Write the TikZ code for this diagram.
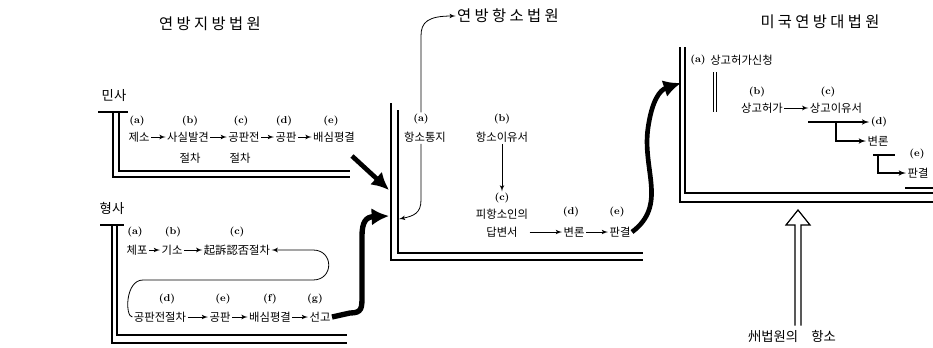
\documentclass[tikz,border=0pt]{standalone}
\usepackage{fontspec}
\newfontfamily\kr{Noto Sans CJK KR}
\newfontfamily\krtitle[LetterSpace=22]{Noto Sans CJK KR}
\usetikzlibrary{arrows, arrows.meta, positioning}

\begin{document}
\begin{tikzpicture}[x=0.75pt, y=-0.75pt,
    step_text/.style={inner sep=1pt, font=\kr\fontsize{8.5}{10}\selectfont},
    step_label/.style={inner sep=1pt, font=\fontsize{7.5}{8}\selectfont\bfseries},
    head_text/.style={inner sep=1pt, font=\kr\fontsize{10}{12}\selectfont},
    court_title/.style={inner sep=1pt, font=\krtitle\fontsize{11.5}{13}\selectfont},
    flow/.style={draw, -latex', line width=0.6pt},
    big_flow/.style={draw, -{Latex[length=13pt,width=13pt]}, line width=3.5pt},
    wall/.style={draw, line width=0.9pt},
    bar/.style={draw, line width=2pt}]
    \useasboundingbox (0,0) rectangle (933,347);

    % district court
    \node [court_title] (dist_title) at (210,24) {연방지방법원};

    % civil
    \node [head_text] (civ_head) at (114,96) {민사};
    \draw [bar] (98,112) -- (128,112);
    \draw [wall] (113,112) |- (350,177);
    \draw [wall] (119,112) |- (350,171);
    \node [step_label] (civ_a_lbl) at (137,121) {(a)};
    \node [step_text] (civ_a) at (139,137) {제소};
    \node [step_label] (civ_b_lbl) at (190,121) {(b)};
    \node [step_text] (civ_b) at (188,137) {사실발견};
    \node [step_text] (civ_b2) at (190,158) {절차};
    \node [step_label] (civ_c_lbl) at (241,121) {(c)};
    \node [step_text] (civ_c) at (244,137) {공판전};
    \node [step_text] (civ_c2) at (240,158) {절차};
    \node [step_label] (civ_d_lbl) at (284,121) {(d)};
    \node [step_text] (civ_d) at (286,137) {공판};
    \node [step_label] (civ_e_lbl) at (331,121) {(e)};
    \node [step_text] (civ_e) at (334,137) {배심평결};
    \draw [flow] (civ_a) -- (civ_b);
    \draw [flow] (civ_b) -- (civ_c);
    \draw [flow] (civ_c) -- (civ_d);
    \draw [flow] (civ_d) -- (civ_e);

    % criminal
    \node [head_text] (cri_head) at (112,208) {형사};
    \draw [bar] (100,225) -- (124,225);
    \draw [wall] (112,225) |- (347,343);
    \draw [wall] (117,225) |- (347,335);
    \node [step_label] (cri_a_lbl) at (135,232) {(a)};
    \node [step_text] (cri_a) at (137,250) {체포};
    \node [step_label] (cri_b_lbl) at (173,232) {(b)};
    \node [step_text] (cri_b) at (172,250) {기소};
    \node [step_label] (cri_c_lbl) at (237,232) {(c)};
    \node [step_text] (cri_c) at (237,250) {起訴認否절차};
    \node [step_label] (cri_d_lbl) at (167,299) {(d)};
    \node [step_text] (cri_d) at (160,317) {공판전절차};
    \node [step_label] (cri_e_lbl) at (223,299) {(e)};
    \node [step_text] (cri_e) at (220,317) {공판};
    \node [step_label] (cri_f_lbl) at (270,299) {(f)};
    \node [step_text] (cri_f) at (270,317) {배심평결};
    \node [step_label] (cri_g_lbl) at (315,299) {(g)};
    \node [step_text] (cri_g) at (320,317) {선고};
    \draw [flow] (cri_a) -- (cri_b);
    \draw [flow] (cri_b) -- (cri_c);
    \draw [flow, latex'-] (cri_c.east) -- (313,250) .. controls (334,250) and (334,280) .. (313,280)
        -- (143,280) .. controls (125,280) and (125,317) .. (cri_d.west);
    \draw [flow] (cri_d) -- (cri_e);
    \draw [flow] (cri_e) -- (cri_f);
    \draw [flow] (cri_f) -- (cri_g);

    % into the court of appeals
    \coordinate (civ_out) at (352,156);
    \coordinate (app_in_hi) at (389,190);
    \coordinate (app_in_lo) at (389,216);
    \draw [big_flow] (civ_out) -- (app_in_hi);
    \draw [big_flow, line width=4pt] (cri_g.east) -- (350,313) .. controls (362,313) and (362,308) .. (362,296)
        -- (362,236) .. controls (362,222) and (366,217) .. (app_in_lo);

    % court of appeals
    \node [court_title] (app_title) at (508,16) {연방항소법원};
    \draw [wall] (391,103) |- (643,260);
    \draw [wall] (398,110) |- (643,253);
    \node [step_label] (app_a_lbl) at (421,119) {(a)};
    \node [step_text] (app_a) at (425,137) {항소통지};
    \node [step_label] (app_b_lbl) at (502,119) {(b)};
    \node [step_text] (app_b) at (502,137) {항소이유서};
    \node [step_label] (app_c_lbl) at (502,198) {(c)};
    \node [step_text] (app_c) at (502,214) {피항소인의};
    \node [step_text] (app_c2) at (502,232) {답변서};
    \node [step_label] (app_d_lbl) at (571,212) {(d)};
    \node [step_text] (app_d) at (574,232) {변론};
    \node [step_label] (app_e_lbl) at (617,212) {(e)};
    \node [step_text] (app_e) at (620,232) {판결};
    \coordinate (app_wall) at (399,219);
    \draw [flow] (app_a_lbl.north) -- (421,36) .. controls (421,22) and (428,16) .. (app_title.west);
    \draw [flow] (app_a.south -| app_a_lbl) -- (421,200) .. controls (421,213) and (414,216) .. (app_wall);
    \draw [flow] (app_b) -- (app_c_lbl);
    \draw [flow] (app_c.east |- app_c2) -- (app_d);
    \draw [flow] (app_d) -- (app_e);

    % into the supreme court
    \coordinate (sup_in) at (681,83);
    \draw [big_flow] (app_e.east) .. controls (668,205) and (642,170) .. (648,128)
        .. controls (652,100) and (660,90) .. (sup_in);

    % supreme court
    \node [court_title] (sup_title) at (820,22) {미국연방대법원};
    \draw [wall] (680,47) |- (933,202);
    \draw [wall] (685,47) |- (933,193);
    \node [step_label] (sup_a_lbl) at (698,60) {(a)};
    \node [step_text, right=1pt of sup_a_lbl] (sup_a) {상고허가신청};
    \draw [double, double distance=1.5pt, line width=0.6pt] (715,72) -- (715,112);
    \node [step_label] (sup_b_lbl) at (757,92) {(b)};
    \node [step_text] (sup_b) at (762,108) {상고허가};
    \node [step_label] (sup_c_lbl) at (828,92) {(c)};
    \node [step_text] (sup_c) at (836,108) {상고이유서};
    \node [step_label] (sup_d_lbl) at (879,122) {(d)};
    \node [step_text] (sup_d) at (878,141) {변론};
    \node [step_label] (sup_e_lbl) at (917,154) {(e)};
    \node [step_text] (sup_e) at (918,173) {판결};
    \draw [flow] (sup_b) -- (sup_c);
    \draw [flow, line width=0.9pt] (sup_c.west |- sup_d_lbl) -- (sup_d_lbl);
    \draw [flow, line width=0.9pt] (sup_c.south |- sup_d_lbl) |- (sup_d);
    \draw [line width=0.9pt] (873,155) -- (895,155);
    \draw [flow, line width=0.9pt] (878,155) |- (sup_e);
    \draw [bar] (905,188) -- (933,188);

    % appeal from the state courts
    \node [head_text] (state_app) at (792,336) {州법원의\quad 항소};
    \coordinate (sup_floor) at (798,210);
    \coordinate (hollow_base) at (798,225);
    \coordinate (hollow_l) at ([xshift=2.25pt,yshift=2pt]state_app.north);
    \coordinate (hollow_r) at ([xshift=6.75pt,yshift=2pt]state_app.north);
    \draw [wall, line join=miter] (hollow_l) -- (hollow_l |- hollow_base) -- (786,225) -- (sup_floor)
        -- (810,225) -- (hollow_r |- hollow_base) -- (hollow_r);
\end{tikzpicture}
\end{document}
